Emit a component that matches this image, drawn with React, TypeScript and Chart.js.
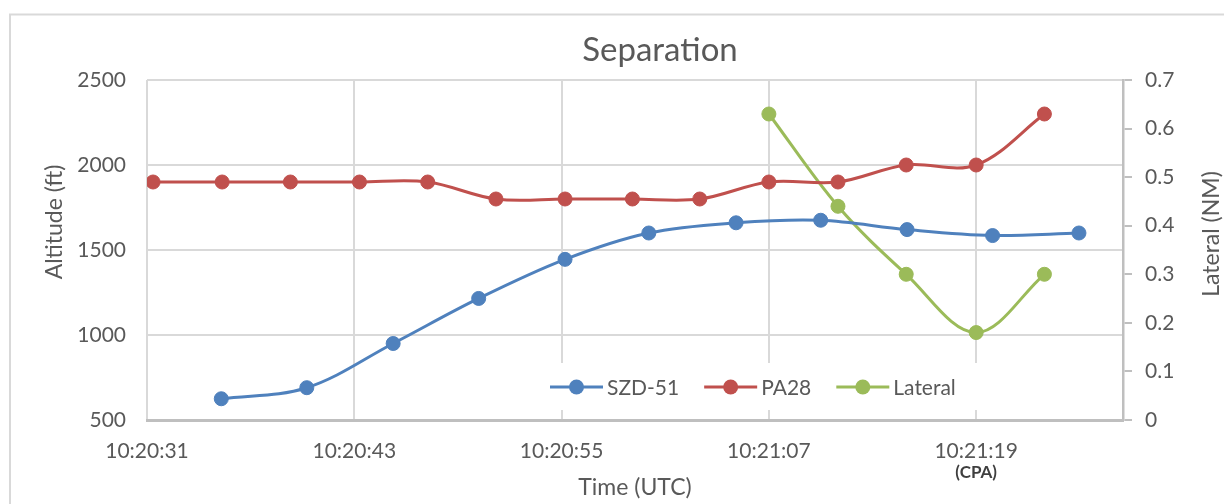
import { useEffect, useRef } from "react";
import { Chart, registerables } from "chart.js";

Chart.register(...registerables);

// ---- data (seconds after 10:20:00 UTC) ----
const szdTimes = [35.3, 40.25, 45.25, 50.2, 55.2, 60.05, 65.1, 70.0, 75.0, 79.95, 84.95];
const szdAltitude = [625, 690, 950, 1215, 1445, 1600, 1660, 1675, 1620, 1585, 1600];

const pa28Times = [31.35, 35.35, 39.3, 43.3, 47.25, 51.2, 55.2, 59.1, 63.0, 67.0, 71.0, 74.95, 79.0, 82.95];
const pa28Altitude = [1900, 1900, 1900, 1900, 1900, 1800, 1800, 1800, 1800, 1900, 1900, 2000, 2000, 2300];

const lateralTimes = [67.0, 71.0, 74.95, 79.0, 82.95];
const lateralNM = [0.63, 0.44, 0.3, 0.18, 0.3];

const xTickSeconds = [31, 43, 55, 67, 79];
const altitudeTicks = [500, 1000, 1500, 2000, 2500];
const lateralTicks = [0, 0.1, 0.2, 0.3, 0.4, 0.5, 0.6, 0.7];
const cpaSecond = 79;

const seriesNames = ["SZD-51", "PA28", "Lateral"];
const seriesColors = ["#4F81BD", "#C0504D", "#9BBB59"];

const TEXT = "#595959";
const FONT = "Lato";

function fmtTime(v: number): string {
  const total = 10 * 3600 + 20 * 60 + v;
  const h = Math.floor(total / 3600);
  const m = Math.floor((total % 3600) / 60);
  const s = Math.round(total % 60);
  return `${h}:${String(m).padStart(2, "0")}:${String(s).padStart(2, "0")}`;
}

function pts(xs: number[], ys: number[]) {
  return xs.map((x, i) => ({ x, y: ys[i] }));
}

const decor = {
  id: "decor",
  beforeDraw(chart: any) {
    const ctx = chart.ctx;
    ctx.save();
    ctx.fillStyle = "#ffffff";
    ctx.fillRect(0, 0, chart.width, chart.height);
    ctx.strokeStyle = "#d9d9d9";
    ctx.lineWidth = 2;
    ctx.beginPath();
    ctx.moveTo(10, chart.height + 5);
    ctx.lineTo(10, 14.5);
    ctx.lineTo(chart.width + 5, 14.5);
    ctx.stroke();
    ctx.restore();
  },
  afterDraw(chart: any) {
    const ctx = chart.ctx;
    const area = chart.chartArea;
    const xs = chart.scales.x;
    ctx.save();
    // title
    ctx.fillStyle = TEXT;
    ctx.font = `33px ${FONT}`;
    ctx.textAlign = "center";
    ctx.textBaseline = "alphabetic";
    ctx.fillText("Separation", 660, 61);

    // axis titles
    ctx.font = `23px ${FONT}`;
    ctx.textBaseline = "middle";
    ctx.fillText("Time (UTC)", (area.left + area.right) / 2, 488);

    ctx.save();
    ctx.translate(55, 222);
    ctx.rotate(-Math.PI / 2);
    ctx.fillText("Altitude (ft)", 0, 0);
    ctx.restore();

    ctx.save();
    ctx.translate(1212, 234);
    ctx.rotate(-Math.PI / 2);
    ctx.fillText("Lateral (NM)", 0, 0);
    ctx.restore();

    // CPA note
    ctx.fillStyle = "#3f3f3f";
    ctx.font = `bold 17px ${FONT}`;
    ctx.fillText("(CPA)", xs.getPixelForValue(cpaSecond), 473);

    // legend inside plot area
    ctx.fillStyle = "#ffffff";
    ctx.fillRect(540, 363, 452, 47);
    let x = 550;
    const y = 387;
    ctx.font = `21px ${FONT}`;
    ctx.textAlign = "left";
    ctx.textBaseline = "middle";
    seriesNames.forEach((name, i) => {
      const c = seriesColors[i];
      ctx.strokeStyle = c;
      ctx.lineWidth = 3;
      ctx.beginPath();
      ctx.moveTo(x, y);
      ctx.lineTo(x + 53, y);
      ctx.stroke();
      ctx.fillStyle = c;
      ctx.beginPath();
      ctx.arc(x + 26.5, y, 7.5, 0, Math.PI * 2);
      ctx.fill();
      ctx.fillStyle = TEXT;
      ctx.fillText(name, x + 57, y + 1);
      x += 57 + ctx.measureText(name).width + 25;
    });
    ctx.restore();
  },
};

export default function App() {
  const ref = useRef<HTMLCanvasElement | null>(null);

  useEffect(() => {
    if (!ref.current) return;
    const mk = (i: number, data: any[], axis: string) => ({
      label: seriesNames[i],
      data,
      yAxisID: axis,
      borderColor: seriesColors[i],
      backgroundColor: seriesColors[i],
      pointBackgroundColor: seriesColors[i],
      pointBorderColor: seriesColors[i],
      pointRadius: 7,
      pointBorderWidth: 1,
      borderWidth: 3,
      tension: 0.35,
      fill: false,
    });
    const tickFont = { family: FONT, size: 21 };
    const chart = new Chart(ref.current, {
      type: "line",
      data: {
        datasets: [
          mk(0, pts(szdTimes, szdAltitude), "y"),
          mk(1, pts(pa28Times, pa28Altitude), "y"),
          mk(2, pts(lateralTimes, lateralNM), "y1"),
        ],
      },
      options: {
        responsive: false,
        animation: false,
        devicePixelRatio: 1,
        layout: { padding: { top: 80, left: 0, right: 0, bottom: 0 } },
        plugins: { legend: { display: false }, title: { display: false }, tooltip: { enabled: false } },
        scales: {
          x: {
            type: "linear",
            min: 31,
            max: 87.5,
            afterBuildTicks: (s: any) => {
              s.ticks = xTickSeconds.map((v) => ({ value: v }));
            },
            afterFit: (s: any) => {
              s.height = 84;
            },
            ticks: {
              callback: (v: any) => fmtTime(Number(v)),
              font: tickFont,
              color: TEXT,
              padding: 19,
              maxRotation: 0,
              autoSkip: false,
            },
            grid: { color: "#d9d9d9", lineWidth: 2, drawTicks: false },
            border: { display: true, color: "#bfbfbf", width: 3 },
          },
          y: {
            type: "linear",
            position: "left",
            min: 500,
            max: 2500,
            afterBuildTicks: (s: any) => {
              s.ticks = altitudeTicks.map((v) => ({ value: v }));
            },
            afterFit: (s: any) => {
              s.width = 147;
            },
            ticks: { callback: (v: any) => String(v), font: tickFont, color: TEXT, padding: 21 },
            grid: { color: "#d9d9d9", lineWidth: 2, drawTicks: false },
            border: { display: false },
          },
          y1: {
            type: "linear",
            position: "right",
            min: 0,
            max: 0.7,
            afterBuildTicks: (s: any) => {
              s.ticks = lateralTicks.map((v) => ({ value: v }));
            },
            afterFit: (s: any) => {
              s.width = 101;
            },
            ticks: { callback: (v: any) => String(v), font: tickFont, color: TEXT, padding: 13 },
            grid: { drawOnChartArea: false, drawTicks: true, tickLength: 9, color: "#bfbfbf", lineWidth: 2 },
            border: { display: true, color: "#bfbfbf", width: 2.5 },
          },
        },
      },
      plugins: [decor],
    } as any);
    return () => chart.destroy();
  }, []);

  return (
    <div style={{ position: "absolute", left: 0, top: 0, width: 1224, height: 504 }}>
      <canvas ref={ref} width={1224} height={504} style={{ width: 1224, height: 504, display: "block" }} />
    </div>
  );
}
